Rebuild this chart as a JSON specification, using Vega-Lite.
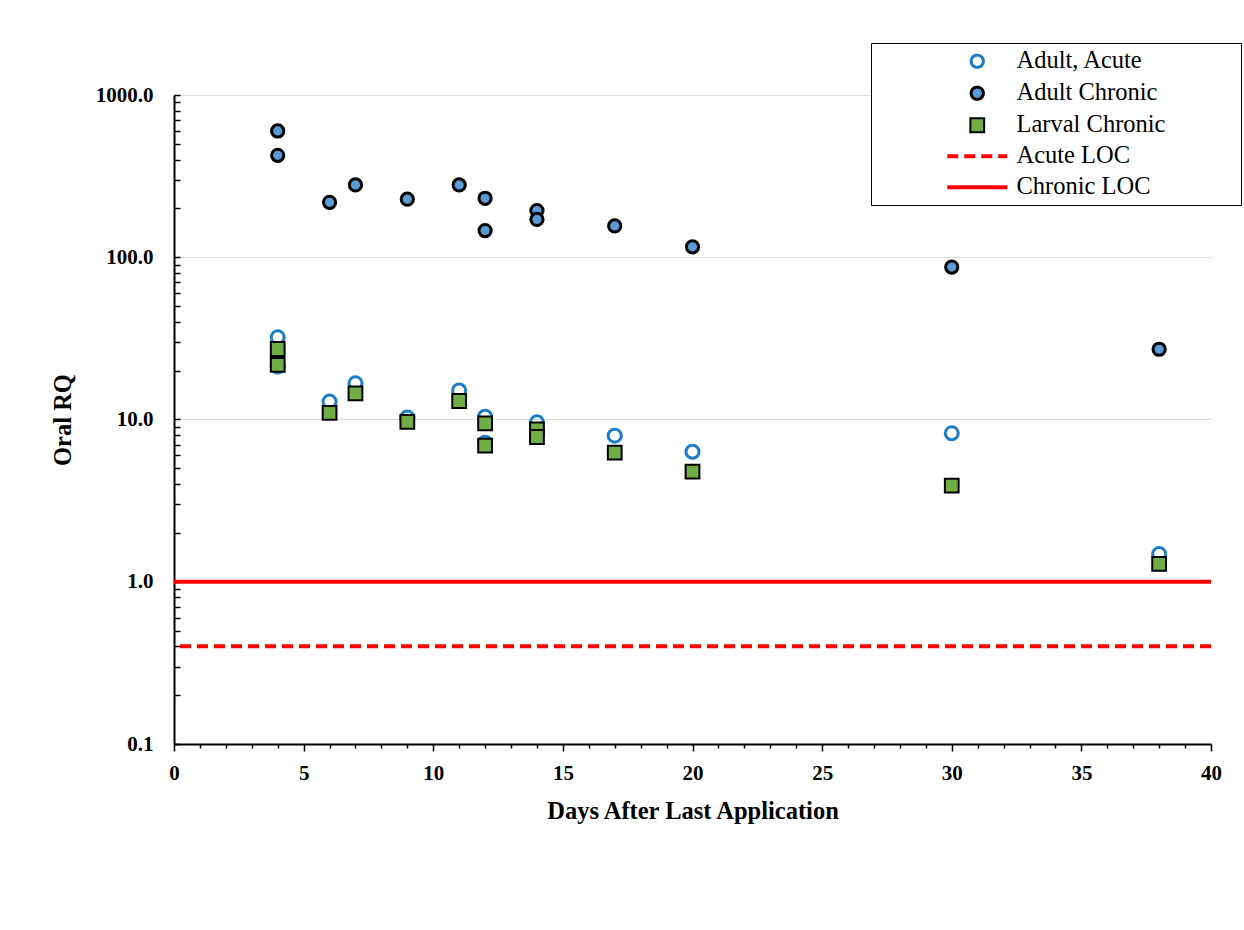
{
  "$schema": "https://vega.github.io/schema/vega-lite/v6.json",
  "width": 1037,
  "height": 649,
  "autosize": {"type": "none"},
  "padding": {"left": 174, "top": 95, "right": 33, "bottom": 186},
  "background": "white",
  "config": {
    "view": {"stroke": null},
    "font": "Liberation Serif",
    "axis": {
      "domainColor": "#000000",
      "domainWidth": 2,
      "tickColor": "#000000",
      "tickWidth": 1.5,
      "labelFont": "Liberation Serif",
      "labelFontSize": 21,
      "labelFontWeight": "bold",
      "labelColor": "#000000",
      "titleFont": "Liberation Serif",
      "titleFontSize": 24.5,
      "titleFontWeight": "bold",
      "titleColor": "#000000",
      "labelOverlap": false,
      "labelFlush": false
    },
    "legend": {
      "orient": "none",
      "legendX": 697,
      "legendY": -52,
      "strokeColor": "#000000",
      "fillColor": "#ffffff",
      "padding": 6,
      "labelFont": "Liberation Serif",
      "labelFontSize": 24.5,
      "labelColor": "#000000",
      "symbolOffset": 88,
      "labelOffset": 27,
      "rowPadding": 6,
      "symbolSize": 144
    }
  },
  "datasets": {
    "points": [
      {"series": "Adult Chronic", "day": 4, "rq": 600},
      {"series": "Adult Chronic", "day": 4, "rq": 425},
      {"series": "Adult Chronic", "day": 6, "rq": 218},
      {"series": "Adult Chronic", "day": 7, "rq": 279},
      {"series": "Adult Chronic", "day": 9, "rq": 228},
      {"series": "Adult Chronic", "day": 11, "rq": 279},
      {"series": "Adult Chronic", "day": 12, "rq": 231},
      {"series": "Adult Chronic", "day": 12, "rq": 146},
      {"series": "Adult Chronic", "day": 14, "rq": 194},
      {"series": "Adult Chronic", "day": 14, "rq": 171},
      {"series": "Adult Chronic", "day": 17, "rq": 156},
      {"series": "Adult Chronic", "day": 20, "rq": 116},
      {"series": "Adult Chronic", "day": 30, "rq": 87},
      {"series": "Adult Chronic", "day": 38, "rq": 27.1},
      {"series": "Adult, Acute", "day": 4, "rq": 32.1},
      {"series": "Adult, Acute", "day": 4, "rq": 21.2},
      {"series": "Adult, Acute", "day": 6, "rq": 12.9},
      {"series": "Adult, Acute", "day": 7, "rq": 16.7},
      {"series": "Adult, Acute", "day": 9, "rq": 10.3},
      {"series": "Adult, Acute", "day": 11, "rq": 15.1},
      {"series": "Adult, Acute", "day": 12, "rq": 10.4},
      {"series": "Adult, Acute", "day": 12, "rq": 7.19},
      {"series": "Adult, Acute", "day": 14, "rq": 9.6},
      {"series": "Adult, Acute", "day": 14, "rq": 8.5},
      {"series": "Adult, Acute", "day": 17, "rq": 7.95},
      {"series": "Adult, Acute", "day": 20, "rq": 6.33},
      {"series": "Adult, Acute", "day": 30, "rq": 8.22},
      {"series": "Adult, Acute", "day": 38, "rq": 1.48},
      {"series": "Larval Chronic", "day": 4, "rq": 27.2},
      {"series": "Larval Chronic", "day": 4, "rq": 21.7},
      {"series": "Larval Chronic", "day": 6, "rq": 11.0},
      {"series": "Larval Chronic", "day": 7, "rq": 14.5},
      {"series": "Larval Chronic", "day": 9, "rq": 9.66},
      {"series": "Larval Chronic", "day": 11, "rq": 13.0},
      {"series": "Larval Chronic", "day": 12, "rq": 9.47},
      {"series": "Larval Chronic", "day": 12, "rq": 6.9},
      {"series": "Larval Chronic", "day": 14, "rq": 8.7},
      {"series": "Larval Chronic", "day": 14, "rq": 7.8},
      {"series": "Larval Chronic", "day": 17, "rq": 6.24},
      {"series": "Larval Chronic", "day": 20, "rq": 4.77},
      {"series": "Larval Chronic", "day": 30, "rq": 3.91},
      {"series": "Larval Chronic", "day": 38, "rq": 1.29}
    ],
    "levels": [
      {"series": "Acute LOC", "rq": 0.4},
      {"series": "Chronic LOC", "rq": 1}
    ]
  },
  "encoding": {
    "x": {
      "field": "day",
      "type": "quantitative",
      "title": "Days After Last Application",
      "scale": {"domain": [0, 40], "nice": false, "zero": false},
      "axis": {
        "values": [0,1,2,3,4,5,6,7,8,9,10,11,12,13,14,15,16,17,18,19,20,21,22,23,24,25,26,27,28,29,30,31,32,33,34,35,36,37,38,39,40],
        "labelExpr": "datum.value % 5 === 0 ? datum.value : ''",
        "tickSize": {"condition": {"test": "datum.value % 5 === 0", "value": 7}, "value": 4},
        "labelPadding": 11,
        "titlePadding": 16,
        "grid": false
      }
    },
    "y": {
      "field": "rq",
      "type": "quantitative",
      "title": "Oral RQ",
      "scale": {"type": "log", "domain": [0.1, 1000], "nice": false},
      "axis": {
        "values": [0.1,0.2,0.3,0.4,0.5,0.6,0.7,0.8,0.9,1,2,3,4,5,6,7,8,9,10,20,30,40,50,60,70,80,90,100,200,300,400,500,600,700,800,900,1000],
        "labelExpr": "indexof([0.1, 1, 10, 100, 1000], datum.value) < 0 ? '' : (datum.value < 1 ? '0.1' : format(datum.value, '.1f'))",
        "tickSize": -6,
        "labelPadding": 27,
        "titlePadding": 20,
        "grid": true,
        "gridColor": "#d9d9d9",
        "gridWidth": 1,
        "gridOpacity": {"condition": {"test": "indexof([1, 10, 100, 1000], datum.value) >= 0", "value": 1}, "value": 0}
      }
    },
    "stroke": {
      "field": "series",
      "type": "nominal",
      "title": null,
      "scale": {
        "domain": ["Adult, Acute", "Adult Chronic", "Larval Chronic", "Acute LOC", "Chronic LOC"],
        "range": ["#1C7CC8", "#000000", "#000000", "#FF0000", "#FF0000"]
      },
      "legend": {
        "encode": {
          "symbols": {
            "update": {
              "shape": {"signal": "datum.value === 'Acute LOC' || datum.value === 'Chronic LOC' ? 'M-5,0H5M41.5,0' : (datum.value === 'Larval Chronic' ? 'square' : 'circle')"},
              "size": {"signal": "datum.value === 'Acute LOC' || datum.value === 'Chronic LOC' ? 144 : (datum.value === 'Larval Chronic' ? 190 : 150)"},
              "fill": {"signal": "datum.value === 'Adult Chronic' ? '#5B9BD5' : (datum.value === 'Larval Chronic' ? '#70AD47' : 'transparent')"},
              "strokeWidth": {"signal": "datum.value === 'Acute LOC' || datum.value === 'Chronic LOC' ? 4 : (datum.value === 'Larval Chronic' ? 2 : 3)"},
              "strokeDash": {"signal": "datum.value === 'Acute LOC' ? [11, 6] : [1, 0]"},
              "opacity": {"value": 1},
              "fillOpacity": {"value": 1}
            }
          }
        }
      }
    }
  },
  "layer": [
    {
      "data": {"name": "levels"},
      "transform": [{"filter": "datum.series === 'Acute LOC'"}],
      "mark": {"type": "rule", "strokeWidth": 4, "strokeDash": [11, 6]},
      "encoding": {"x": null}
    },
    {
      "data": {"name": "levels"},
      "transform": [{"filter": "datum.series === 'Chronic LOC'"}],
      "mark": {"type": "rule", "strokeWidth": 4},
      "encoding": {"x": null}
    },
    {
      "data": {"name": "points"},
      "transform": [{"filter": "datum.series === 'Adult Chronic'"}],
      "mark": {"type": "point", "shape": "circle", "size": 150, "strokeWidth": 3, "fill": "#5B9BD5", "filled": false, "opacity": 1, "fillOpacity": 1}
    },
    {
      "data": {"name": "points"},
      "transform": [{"filter": "datum.series === 'Adult, Acute'"}],
      "mark": {"type": "point", "shape": "circle", "size": 170, "strokeWidth": 3, "filled": false, "opacity": 1}
    },
    {
      "data": {"name": "points"},
      "transform": [{"filter": "datum.series === 'Larval Chronic'"}],
      "mark": {"type": "point", "shape": "square", "size": 190, "strokeWidth": 2, "fill": "#70AD47", "filled": false, "opacity": 1, "fillOpacity": 1}
    }
  ]
}
